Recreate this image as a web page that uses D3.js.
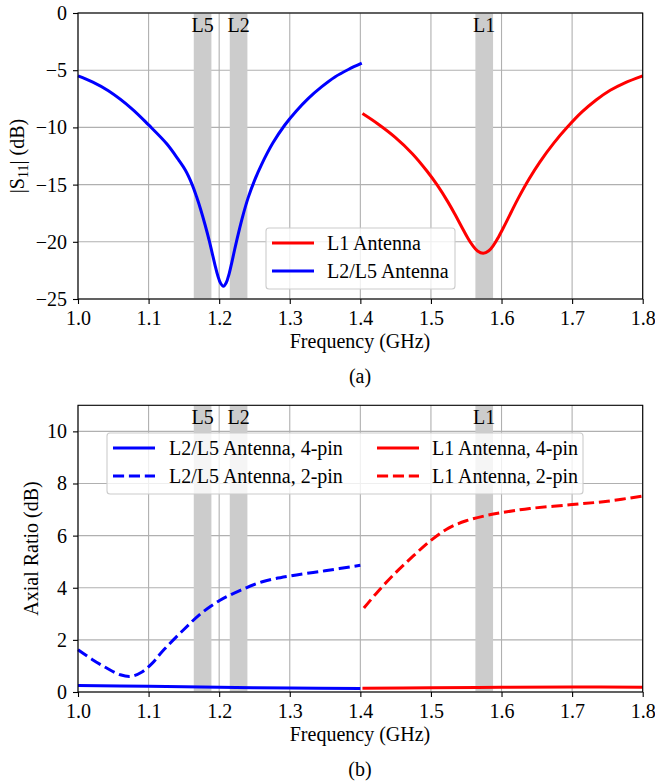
<!DOCTYPE html>
<html>
<head>
<meta charset="utf-8">
<script src="https://cdn.jsdelivr.net/npm/d3@7/dist/d3.min.js"></script>
<style>
  html, body { margin: 0; padding: 0; background: #fff; }
  svg text { font-family: "Liberation Serif", "Times New Roman", serif; fill: #000; }
</style>
</head>
<body>
<svg id="chart" width="655" height="783"></svg>
<script>
// ---- GNSS bands (GHz) ----
const bandNames = ["L5", "L2", "L1"];
const bandLo = [1.164, 1.215, 1.563];
const bandHi = [1.189, 1.240, 1.588];

// ---- (a) |S11| in dB ----
const s11L25Freq = [1.000, 1.021, 1.043, 1.076, 1.100, 1.126, 1.142, 1.152, 1.162, 1.168, 1.174, 1.180, 1.186, 1.190, 1.194, 1.198, 1.202, 1.206,
  1.210, 1.214, 1.218, 1.222, 1.227, 1.234, 1.241, 1.250, 1.260, 1.276, 1.293, 1.309, 1.326, 1.345, 1.364, 1.383, 1.402];
const s11L25 = [-5.5, -6.05, -6.8, -8.35, -9.78, -11.45, -12.8, -13.73, -15.04, -16.07, -17.22, -18.51, -19.92, -20.97, -22.01, -22.95, -23.62, -23.88,
  -23.58, -22.82, -21.78, -20.65, -19.32, -17.62, -16.16, -14.65, -13.25, -11.37, -9.79, -8.58, -7.48, -6.46, -5.59, -4.94, -4.39];
const s11L1Freq = [1.403, 1.424, 1.449, 1.474, 1.494, 1.509, 1.524, 1.534, 1.544, 1.552, 1.559, 1.566, 1.574,
  1.582, 1.589, 1.596, 1.604, 1.614, 1.624, 1.639, 1.654, 1.674, 1.694, 1.714, 1.734, 1.754, 1.774, 1.800];
const s11L1 = [-8.79, -9.66, -10.85, -12.32, -13.79, -15.05, -16.51, -17.60, -18.75, -19.65, -20.32, -20.80, -21.0,
  -20.78, -20.27, -19.55, -18.61, -17.37, -16.16, -14.51, -13.05, -11.37, -9.93, -8.65, -7.6, -6.75, -6.12, -5.49];

// ---- (b) axial ratio in dB ----
const arL25Freq2 = [1.00, 1.02, 1.04, 1.06, 1.075, 1.09, 1.105, 1.12, 1.15, 1.175, 1.20, 1.23, 1.26, 1.30, 1.35, 1.40];
const arL25Pin2 = [1.62, 1.25, 0.93, 0.66, 0.60, 0.76, 1.10, 1.57, 2.40, 3.03, 3.50, 3.90, 4.22, 4.45, 4.65, 4.86];
const arL25Freq4 = [1.00, 1.10, 1.20, 1.30, 1.40];
const arL25Pin4 = [0.25, 0.22, 0.18, 0.15, 0.13];
const arL1Freq2 = [1.405, 1.425, 1.45, 1.475, 1.50, 1.525, 1.55, 1.575, 1.60, 1.64, 1.70, 1.75, 1.80];
const arL1Pin2 = [3.22, 3.86, 4.58, 5.22, 5.82, 6.29, 6.57, 6.75, 6.88, 7.04, 7.19, 7.32, 7.52];
const arL1Freq4 = [1.403, 1.50, 1.60, 1.70, 1.80];
const arL1Pin4 = [0.14, 0.16, 0.18, 0.19, 0.18];

// ---- ticks ----
const xTicks = [1.0, 1.1, 1.2, 1.3, 1.4, 1.5, 1.6, 1.7, 1.8];
const s11Ticks = [0, -5, -10, -15, -20, -25];
const arTicks = [0, 2, 4, 6, 8, 10];

const svg = d3.select("#chart");
const FS = 20;
const LW = 3;
const dash = `${3.7 * LW},${1.6 * LW}`;
const pair = (xs, ys) => xs.map((x, i) => [x, ys[i]]);

function panel(cfg) {
  const x = d3.scaleLinear().domain([1.0, 1.8]).range([78, 642.7]);
  const y = d3.scaleLinear().domain(cfg.yDomain).range([cfg.bottom, cfg.top]);
  const g = svg.append("g");

  // grid
  g.append("g").selectAll("line").data(xTicks).join("line")
    .attr("x1", d => x(d)).attr("x2", d => x(d))
    .attr("y1", cfg.top).attr("y2", cfg.bottom)
    .attr("stroke", "#b0b0b0").attr("stroke-width", 1.1);
  g.append("g").selectAll("line").data(cfg.yTicks).join("line")
    .attr("x1", 78).attr("x2", 642.7)
    .attr("y1", d => y(d)).attr("y2", d => y(d))
    .attr("stroke", "#b0b0b0").attr("stroke-width", 1.1);

  // band shading + labels
  g.append("g").selectAll("rect").data(bandNames).join("rect")
    .attr("x", (d, i) => x(bandLo[i]))
    .attr("width", (d, i) => x(bandHi[i]) - x(bandLo[i]))
    .attr("y", cfg.top).attr("height", cfg.bottom - cfg.top)
    .attr("fill", "#cccccc");
  g.append("g").selectAll("text").data(bandNames).join("text")
    .attr("x", (d, i) => x((bandLo[i] + bandHi[i]) / 2))
    .attr("y", cfg.top + 19)
    .attr("text-anchor", "middle")
    .attr("font-size", FS)
    .text(d => d);

  // curves
  const line = d3.line().x(d => x(d[0])).y(d => y(d[1])).curve(d3.curveCatmullRom.alpha(0.5));
  cfg.series.forEach(s => {
    g.append("path")
      .attr("d", line(pair(s.f, s.v)))
      .attr("fill", "none")
      .attr("stroke", s.color)
      .attr("stroke-width", LW)
      .attr("stroke-dasharray", s.dashed ? dash : null);
  });

  // axes
  const xAxis = d3.axisBottom(x).tickValues(xTicks).tickFormat(d3.format(".1f")).tickSizeOuter(0).tickSize(5).tickPadding(7);
  const yAxis = d3.axisLeft(y).tickValues(cfg.yTicks).tickFormat(d => d < 0 ? "\u2212" + Math.abs(d) : d).tickSizeOuter(0).tickSize(5).tickPadding(6);
  const gx = g.append("g").attr("transform", `translate(0,${cfg.bottom})`).call(xAxis);
  const gy = g.append("g").attr("transform", `translate(78,0)`).call(yAxis);
  [gx, gy].forEach(a => {
    a.select(".domain").remove();
    a.selectAll("line").attr("stroke", "#000").attr("stroke-width", 1.1);
    a.selectAll("text").attr("font-size", FS).attr("font-family", "Liberation Serif");
  });

  // frame
  g.append("rect")
    .attr("x", 78).attr("y", cfg.top)
    .attr("width", 642.7 - 78).attr("height", cfg.bottom - cfg.top)
    .attr("fill", "none").attr("stroke", "#000").attr("stroke-width", 1.1);

  // x label
  g.append("text").attr("x", 360).attr("y", cfg.bottom + 49)
    .attr("text-anchor", "middle").attr("font-size", FS).text("Frequency (GHz)");
  // caption
  g.append("text").attr("x", 360).attr("y", cfg.bottom + 84)
    .attr("text-anchor", "middle").attr("font-size", FS).text(cfg.caption);

  // legend
  const lg = g.append("g");
  lg.append("rect")
    .attr("x", cfg.legend.x).attr("y", cfg.legend.y)
    .attr("width", cfg.legend.w).attr("height", cfg.legend.h)
    .attr("rx", 3).attr("ry", 3)
    .attr("fill", "#fff").attr("fill-opacity", 0.8)
    .attr("stroke", "#cccccc").attr("stroke-width", 1.1);
  cfg.legend.items.forEach(it => {
    lg.append("line")
      .attr("x1", it.x).attr("x2", it.x + 42)
      .attr("y1", it.y).attr("y2", it.y)
      .attr("stroke", it.color).attr("stroke-width", LW)
      .attr("stroke-dasharray", it.dashed ? dash : null);
    lg.append("text")
      .attr("x", it.x + it.tx).attr("y", it.y + 6.5)
      .attr("font-size", FS).text(it.label);
  });

  return { g, x, y };
}

// (a) return loss
const pa = panel({
  top: 13, bottom: 299, yDomain: [-25, 0], yTicks: s11Ticks, caption: "(a)",
  series: [
    { f: s11L25Freq, v: s11L25, color: "#0000ff" },
    { f: s11L1Freq, v: s11L1, color: "#ff0000" }
  ],
  legend: {
    x: 266, y: 228, w: 189, h: 61,
    items: [
      { x: 272, y: 243, tx: 55, color: "#ff0000", label: "L1 Antenna" },
      { x: 272, y: 271, tx: 55, color: "#0000ff", label: "L2/L5 Antenna" }
    ]
  }
});

// |S11| (dB) label with subscript
const yl = pa.g.append("text")
  .attr("transform", "translate(24,156) rotate(-90)")
  .attr("text-anchor", "middle")
  .attr("font-size", FS);
yl.append("tspan").text("|S");
yl.append("tspan").attr("font-size", 14).attr("dy", 4).text("11");
yl.append("tspan").attr("dy", -4).text("| (dB)");

// (b) axial ratio
const pb = panel({
  top: 405.3, bottom: 692, yDomain: [0, 11], yTicks: arTicks, caption: "(b)",
  series: [
    { f: arL25Freq4, v: arL25Pin4, color: "#0000ff" },
    { f: arL25Freq2, v: arL25Pin2, color: "#0000ff", dashed: true },
    { f: arL1Freq4, v: arL1Pin4, color: "#ff0000" },
    { f: arL1Freq2, v: arL1Pin2, color: "#ff0000", dashed: true }
  ],
  legend: {
    x: 107, y: 433, w: 476, h: 61,
    items: [
      { x: 113, y: 448, tx: 56, color: "#0000ff", label: "L2/L5 Antenna, 4-pin" },
      { x: 113, y: 476, tx: 56, color: "#0000ff", dashed: true, label: "L2/L5 Antenna, 2-pin" },
      { x: 377, y: 448, tx: 55, color: "#ff0000", label: "L1 Antenna, 4-pin" },
      { x: 377, y: 476, tx: 55, color: "#ff0000", dashed: true, label: "L1 Antenna, 2-pin" }
    ]
  }
});

pb.g.append("text")
  .attr("transform", "translate(38,548.5) rotate(-90)")
  .attr("text-anchor", "middle")
  .attr("font-size", FS)
  .text("Axial Ratio (dB)");
</script>
</body>
</html>
